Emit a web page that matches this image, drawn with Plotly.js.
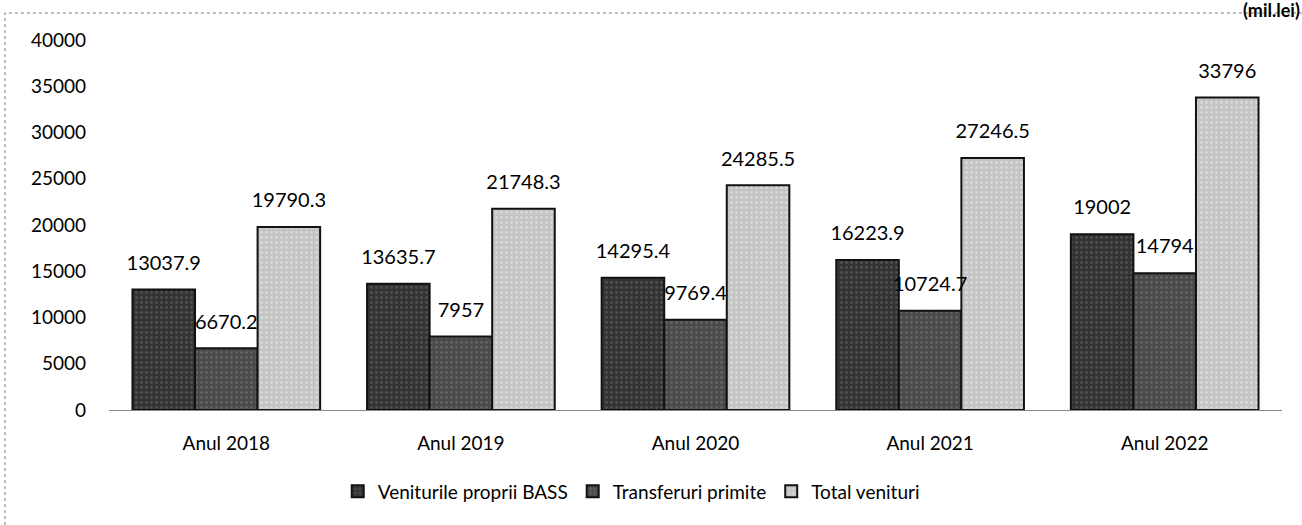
<!DOCTYPE html>
<html>
<head>
<meta charset="utf-8">
<script src="https://cdn.plot.ly/plotly-3.0.1.min.js"></script>
<style>html,body{margin:0;padding:0;background:#fff;}#chart{width:1302px;height:525px;}</style>
</head>
<body>
<div id="chart"></div>
<script>
const categories = ["Anul 2018", "Anul 2019", "Anul 2020", "Anul 2021", "Anul 2022"];
const seriesNames = ["Veniturile proprii BASS", "Transferuri primite", "Total venituri"];
const venituriProprii = [13037.9, 13635.7, 14295.4, 16223.9, 19002];
const transferuri = [6670.2, 7957, 9769.4, 10724.7, 14794];
const totalVenituri = [19790.3, 21748.3, 24285.5, 27246.5, 33796];
const yTicks = [0, 5000, 10000, 15000, 20000, 25000, 30000, 35000, 40000];
const unitLabel = "(mil.lei)";

const seriesValues = [venituriProprii, transferuri, totalVenituri];
const fills = ["#333333", "#4a4a4a", "#c4c4c4"];
const dots = ["#6e6e6e", "#7c7c7c", "#eeeeee"];
const FONT = "Lato, 'Open Sans', sans-serif";

const traces = [];
seriesValues.forEach((vals, i) => {
  traces.push({
    type: "bar", name: seriesNames[i], x: categories, y: vals,
    marker: {color: fills[i], line: {color: "#111", width: 2},
             pattern: {shape: ".", fillmode: "overlay", fgcolor: dots[i], size: 5, solidity: 0.25}},
    hoverinfo: "skip", showlegend: true
  });
});
seriesValues.forEach((vals, i) => {
  traces.push({
    type: "scatter", mode: "markers+text", x: categories, y: vals,
    text: vals.map(v => String(v)), textposition: "top center",
    textfont: {family: FONT, size: 20, color: "#000"},
    marker: {size: 22, color: "rgba(0,0,0,0)"},
    showlegend: false, hoverinfo: "skip", cliponaxis: false
  });
});

const layout = {
  width: 1302, height: 525,
  margin: {l: 109, r: 20, t: 40, b: 115},
  paper_bgcolor: "#fff", plot_bgcolor: "#fff",
  barmode: "group", bargap: 0.2, bargroupgap: 0,
  scattermode: "group", scattergap: 0.2,
  font: {family: FONT, size: 20, color: "#000"},
  xaxis: {type: "category", showgrid: false, zeroline: false, showline: true,
          linecolor: "#888", linewidth: 1, ticks: "", ticklabelstandoff: 16,
          tickfont: {family: FONT, size: 19, color: "#000"}},
  yaxis: {range: [0, 40000], tickvals: yTicks, ticktext: yTicks.map(String),
          showgrid: false, zeroline: false, showline: false, ticks: "",
          ticklabelstandoff: 22, tickfont: {family: FONT, size: 19, color: "#000"}},
  legend: {orientation: "h", x: 0.195, xanchor: "left", y: -0.22, yanchor: "middle",
           font: {family: FONT, size: 19, color: "#000"},
           tracegroupgap: 0, itemclick: false},
  shapes: [{type: "rect", xref: "paper", yref: "paper", x0: -0.0887, x1: 1.3, y0: -0.6, y1: 1.073,
            line: {color: "#777", width: 1, dash: "dot"}, layer: "below"}],
  annotations: [{xref: "paper", yref: "paper", x: 0.991, y: 1.08, xanchor: "center", yanchor: "middle",
                 text: "<b>" + unitLabel + "</b>", showarrow: false,
                 font: {family: FONT, size: 18, color: "#000"}}]
};

Plotly.newPlot("chart", traces, layout, {displayModeBar: false, staticPlot: true});
</script>
</body>
</html>
